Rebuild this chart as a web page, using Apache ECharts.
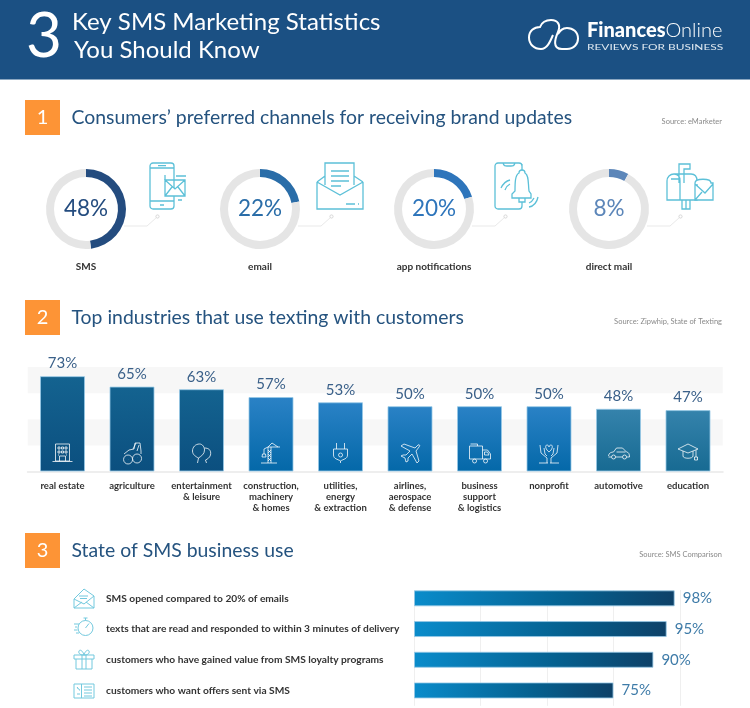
<!DOCTYPE html>
<html><head><meta charset="utf-8">
<style>html,body{margin:0;padding:0;background:#fff}#c{width:750px;height:708px}</style>
<script src="https://cdn.jsdelivr.net/npm/echarts@6/dist/echarts.min.js"></script>
</head><body><div id="c"></div>
<script>
const channelNames = ['SMS', 'email', 'app notifications', 'direct mail'];
const channelValues = [48, 22, 20, 8];
const industryNames = ['real estate', 'agriculture', 'entertainment\n& leisure', 'construction,\nmachinery\n& homes', 'utilities,\nenergy\n& extraction', 'airlines,\naerospace\n& defense', 'business\nsupport\n& logistics', 'nonprofit', 'automotive', 'education'];
const industryValues = [73, 65, 63, 57, 53, 50, 50, 50, 48, 47];
const usageNames = ['SMS opened compared to 20% of emails', 'texts that are read and responded to within 3 minutes of delivery', 'customers who have gained value from SMS loyalty programs', 'customers who want offers sent via SMS'];
const usageValues = [98, 95, 90, 75];

const FONT = 'Lato, "Noto Sans", sans-serif';
const ringColors = ['#244c7f', '#2a6da8', '#2e75bb', '#5c86b9'];
const ringCenters = [86, 260, 434, 609];
const CY = 209;
const barColors = [['#146390', '#0b4f7f'], ['#2a82c6', '#0468a8'], ['#3583ac', '#176a92']];
const CYAN = '#5cc0d8';

const g = [];
let shapeId = 0;
const pathEl = (x, y, d, style, z = 0) => {
  const name = 'iconShape' + (shapeId++);
  echarts.graphic.registerShape(name, echarts.graphic.extendPath(d, {}));
  return { type: name, x, y, z, silent: true, style };
};
const txt = (x, y, text, font, fill, align = 'left', extra = {}) => g.push({
  type: 'text', x, y, silent: true, ...extra,
  style: { text, font: font + ' ' + FONT, fill, align, verticalAlign: 'middle' }
});
const icon = (x, y, d, stroke, lw = 1, fill = 'none') => g.push(pathEl(x, y, d, { fill, stroke, lineWidth: lw }));

// header
g.push({ type: 'rect', silent: true, shape: { x: 0, y: 0, width: 750, height: 79.5 }, style: { fill: '#1b5083' } });
txt(26, 37, '3', '62px', '#fff');
txt(72, 22, 'Key SMS Marketing Statistics', '24px', '#fff');
txt(74, 50, 'You Should Know', '24px', '#fff');
icon(528, 19, 'M13 30C6 30 1 25 1 18.5C1 12 6 8 12 8C14 3 19 1 23 1C30 1 33 6 30 13C27 20 24 30 34 30H39C46 30 50 25 50 19.5C50 13 45 9 39 9C34 9 32 12 30 15M13 30C19 30 22 23 25 16', '#fff', 2);
g.push({ type: 'text', x: 587, y: 31, silent: true, style: { rich: { a: { font: '900 20px ' + FONT, fill: '#fff' }, b: { font: '300 20px ' + FONT, fill: '#fff' } }, text: '{a|Finances}{b|Online}', verticalAlign: 'middle' } });
txt(587, 47, 'REVIEWS FOR BUSINESS', '8.2px', '#dfe8f0', 'left', { scaleX: 1.455 });

// section headings
const sections = [
  [100, 'Consumers’ preferred channels for receiving brand updates', 'Source: eMarketer'],
  [300, 'Top industries that use texting with customers', 'Source: Zipwhip, State of Texting'],
  [533, 'State of SMS business use', 'Source: SMS Comparison']
];
sections.forEach((s, i) => {
  g.push({ type: 'rect', silent: true, shape: { x: 25, y: s[0], width: 35, height: 35 }, style: { fill: '#fd9436' } });
  txt(42.5, s[0] + 17.5, String(i + 1), '20px', '#fff', 'center');
  txt(71.5, s[0] + 17.5, s[1], '19.4px', '#25537f');
  txt(722, s[0] + 21.5, s[2], '7.5px', '#8a8a8a', 'right');
});

// channel names + connectors
channelNames.forEach((n, i) => {
  const cx = ringCenters[i];
  txt(cx, 267, n, 'bold 10px', '#333', 'center');
  icon(cx, CY, 'M38 17H61L70.5 8.5', '#e9e9e9', 1);
  g.push({ type: 'circle', silent: true, shape: { cx: cx + 71.5, cy: CY + 7.5, r: 1.6 }, style: { fill: '#fff', stroke: '#d8d8d8', lineWidth: 1 } });
});

// channel icons
icon(150, 163, 'M3 0H21a3 3 0 0 1 3 3V43a3 3 0 0 1-3 3H3a3 3 0 0 1-3-3V3a3 3 0 0 1 3-3ZM0 5H24M0 38H24M8 2.7H16M10 42H14M15 17V12M26 13H36M28 37H32', CYAN, 1.3);
icon(150, 163, 'M15 17H35V33H15ZM15 17L25 26L35 17M15 33L22 24M35 33L28 24', CYAN, 1.3, '#fff');
icon(317, 163, 'M8 22V0H37V22M14 8H32M14 13H32M14 18H32M14 23H24M0 19L8 13M37 13L46 19M0 19V46H46V19M0 19L23 32L46 19M29 41H38M41 41H42', CYAN, 1.3);
icon(495, 163, 'M3 0H24a3 3 0 0 1 3 3V43a3 3 0 0 1-3 3H3a3 3 0 0 1-3-3V3a3 3 0 0 1 3-3ZM8 0C9 3 10 3 12 3H16C18 3 19 3 20 0M27 1V8', CYAN, 1.3);
icon(495, 163, 'M24 10a3 3 0 0 1 6 0C34 12 33 20 34 28L36 31V35H17V31L20 28C20 20 20 12 24 10ZM24 35V39H30V35', CYAN, 1.3, '#fff');
icon(495, 163, 'M15 17C11 18 8 21 6 25M15 21C13 22 11 24 10 27M34 44C39 43 42 39 43 34M34 40C37 39 38 37 39 35', CYAN, 1.3);
icon(667, 163, 'M7 11H24C29 11 30 15 30 18V37H0V18C0 14 3 11 7 11ZM7 11C11 11 13 14 13 18V37M4 16H12M15 37V46H23V37M19 37V46M12 20V1H23V6H17V20', CYAN, 1.3);
icon(667, 163, 'M28 37V20C28 15 44 15 44 20H46V37ZM28 21L38 30L46 21M28 37L35 29', CYAN, 1.3, '#fff');

// usage row icons
icon(74, 588, 'M0 11L10 1L20 8V20H0ZM0 11L10 16L20 8M0 20L8 14M20 20L12 14M5 8H14M6 10.5H13', '#73c9de', 1);
icon(74, 618, 'M19 10a7.500 7.500 0 1 1-15 0a7.500 7.500 0 1 1 15 0ZM11.500 2.500V0M9.500 0H13.500M11.500 10L15 5.500M0 6H5M1 9H3M0 12H3.500M2 15H5', '#73c9de', 1);
icon(74, 649, 'M0 6H20V10H0ZM2 10V20H18V10M8 6V20M12 6V20M10 6C7 6 4 5 5 2C6 0 9 2 10 6C11 2 14 0 15 2C16 5 13 6 10 6Z', '#73c9de', 1);
icon(74, 683, 'M0 1H20V15H0ZM7.500 1V15M3 4L5.500 7M3 5h1M5 7h1M3 11H6M10 4H18M10 7H18M10 10H18M10 13H18', '#73c9de', 1);

// keeps the vertical guide lines from showing above the first bar
g.push({ type: 'rect', silent: true, z: 1, shape: { x: 410, y: 578, width: 275, height: 12 }, style: { fill: '#fff' } });

const option = {
  animation: false,
  backgroundColor: '#fff',
  textStyle: { fontFamily: FONT },
  graphic: { elements: g },
  grid: [
    { left: 27.75, top: 367, width: 695, height: 104.5 },
    { left: 414, top: 583, width: 266, height: 122.8 }
  ],
  xAxis: [
    { gridIndex: 0, type: 'category', data: industryNames,
      axisLine: { lineStyle: { color: '#eeeeee', width: 2 } }, axisTick: { show: false },
      axisLabel: { interval: 0, margin: 9, fontSize: 9.5, fontWeight: 'bold', lineHeight: 11, color: '#333', fontFamily: FONT } },
    { gridIndex: 1, type: 'value', min: 0, max: 100, interval: 25,
      axisLine: { show: false }, axisTick: { show: false }, axisLabel: { show: false },
      splitLine: { show: true, lineStyle: { color: '#efefef', width: 1 } } }
  ],
  yAxis: [
    { gridIndex: 0, type: 'value', min: 0, max: 80, interval: 20,
      axisLine: { show: false }, axisTick: { show: false }, axisLabel: { show: false },
      splitLine: { show: false },
      splitArea: { show: true, areaStyle: { color: ['#ffffff', '#f7f7f7'] } } },
    { gridIndex: 1, type: 'category', inverse: true, data: usageNames,
      axisLine: { show: false }, axisTick: { show: false }, splitLine: { show: false },
      axisLabel: { interval: 0, align: 'left', margin: 308, fontSize: 10.2, fontWeight: 'bold', color: '#333', fontFamily: FONT } }
  ],
  series: [
    ...channelValues.map((v, i) => ({
      type: 'pie', silent: true, radius: [32, 40], center: [ringCenters[i], CY],
      startAngle: 90, clockwise: true,
      avoidLabelOverlap: false, labelLine: { show: false },
      emphasis: { disabled: true },
      data: [
        { value: v, name: channelNames[i], itemStyle: { color: ringColors[i] },
          label: { show: true, position: 'center', formatter: '{c}%', fontSize: 22.5, fontWeight: 400, color: ringColors[i], fontFamily: FONT } },
        { value: 100 - v, name: 'rest', itemStyle: { color: '#e5e5e5' }, label: { show: false } }
      ]
    })),
    {
      type: 'bar', xAxisIndex: 0, yAxisIndex: 0, barWidth: 45, silent: true,
      data: industryValues,
      itemStyle: {
        borderWidth: 1, borderColor: 'rgba(150,200,230,0.8)',
        color: p => {
          const c = barColors[p.dataIndex < 3 ? 0 : p.dataIndex < 8 ? 1 : 2];
          return new echarts.graphic.LinearGradient(0, 0, 0, 1, [{ offset: 0, color: c[0] }, { offset: 1, color: c[1] }]);
        }
      },
      label: { show: true, position: 'top', distance: 5, formatter: '{c}%', fontSize: 15, color: '#3a6089', fontFamily: FONT }
    },
    {
      type: 'bar', xAxisIndex: 1, yAxisIndex: 1, barWidth: 16, silent: true,
      data: usageValues,
      itemStyle: {
        borderWidth: 1, borderColor: 'rgba(150,200,230,0.8)',
        color: new echarts.graphic.LinearGradient(0, 0, 1, 0, [{ offset: 0, color: '#0a8ccb' }, { offset: 0.6, color: '#05608f' }, { offset: 1, color: '#0e4168' }])
      },
      label: { show: true, position: 'right', distance: 8, formatter: '{c}%', fontSize: 15, color: '#3e7ba8', fontFamily: FONT }
    }
  ]
};

const chart = echarts.init(document.getElementById('c'), null, { renderer: 'canvas', width: 750, height: 708 });
chart.setOption(option);

// white glyphs inside the industry bars, centred on each bar through the axis scale
const barIcons = [
  'M3 1H17V18H3ZM0 18.500H20M5.500 4h2v2h-2zM9 4h2v2h-2zM12.500 4h2v2h-2zM5.500 8h2v2h-2zM9 8h2v2h-2zM12.500 8h2v2h-2zM7 18V13H13V18M5.500 12h1M13.500 12h1',
  'M6 12a4.500 4.500 0 1 0 .1 0ZM15 11a4.500 4.500 0 1 0 .1 0ZM2 11L7 7L12 6L13 0H18L19 8V11M14 0L11 6M17 2L15 8M15 14.500h.1M6 16.500h.1',
  'M8 1C4 1 1 4 1 8C1 12 5 14 7 15C10 13 13 11 13 7C13 4 11 1 8 1ZM13 5C17 5 20 7 19 12C18 15 16 16 14 17M7 15L6 20M14 17L15 20',
  'M7 20V4L3 6M7 4H19M10 20V4M7 4L11 0L17 4M7 7L10 10M10 7L7 10M7 11L10 14M10 11L7 14M7 15L10 18M10 15L7 18M0 20H16M3 6V11M1.500 11H4.500L5 14H1Z',
  'M6 0V6M14 0V6M3 6H17V12C17 16 13 16 10 18C7 16 3 16 3 12ZM10 18V20M10 10a2 2 0 1 0 .1 0Z',
  'M1 3L4 1L15 5L18 2C20 1 20 3 19 4L16 8L19 18L17 20L12 11L8 15L8 18L6 19L5 15L1 13L3 12L6 12L10 8Z',
  'M0 3H13V16H0ZM1 1H8V3M13 7H18L21 11V16H13M15 9H18L19.500 12H15ZM5 16a2 2 0 1 0 .1 0ZM16 16a2 2 0 1 0 .1 0Z',
  'M10 9C6 6 6 2 8 2C9 2 10 3 10 4C10 3 11 2 12 2C14 2 14 6 10 9ZM1 2L2 10L8 15V20M19 2L18 10L12 15V20M5 5L6 11L8 13M15 5L14 11L12 13M0 20H9M11 20H20',
  'M0 13C0 10 3 9 5 9L8 5H14L18 9C20 9 21 11 21 14H18M14 14H7M3 14H0M5 12a2 2 0 1 0 .1 0ZM16 12a2 2 0 1 0 .1 0ZM8 9H17',
  'M10 1L20 6L10 10L0 6ZM5 8V13C5 16 15 16 15 13V8M18 7V14M16.500 14H19.500V17H16.500Z'
];
const iconGraphics = barIcons.map((d, i) => pathEl(
  chart.convertToPixel({ xAxisIndex: 0 }, i) - 10, 443, d,
  { fill: 'none', stroke: 'rgba(255,255,255,0.85)', lineWidth: 0.9 }, 10
));
chart.setOption({ graphic: { elements: g.concat(iconGraphics) } });
</script>
</body></html>
